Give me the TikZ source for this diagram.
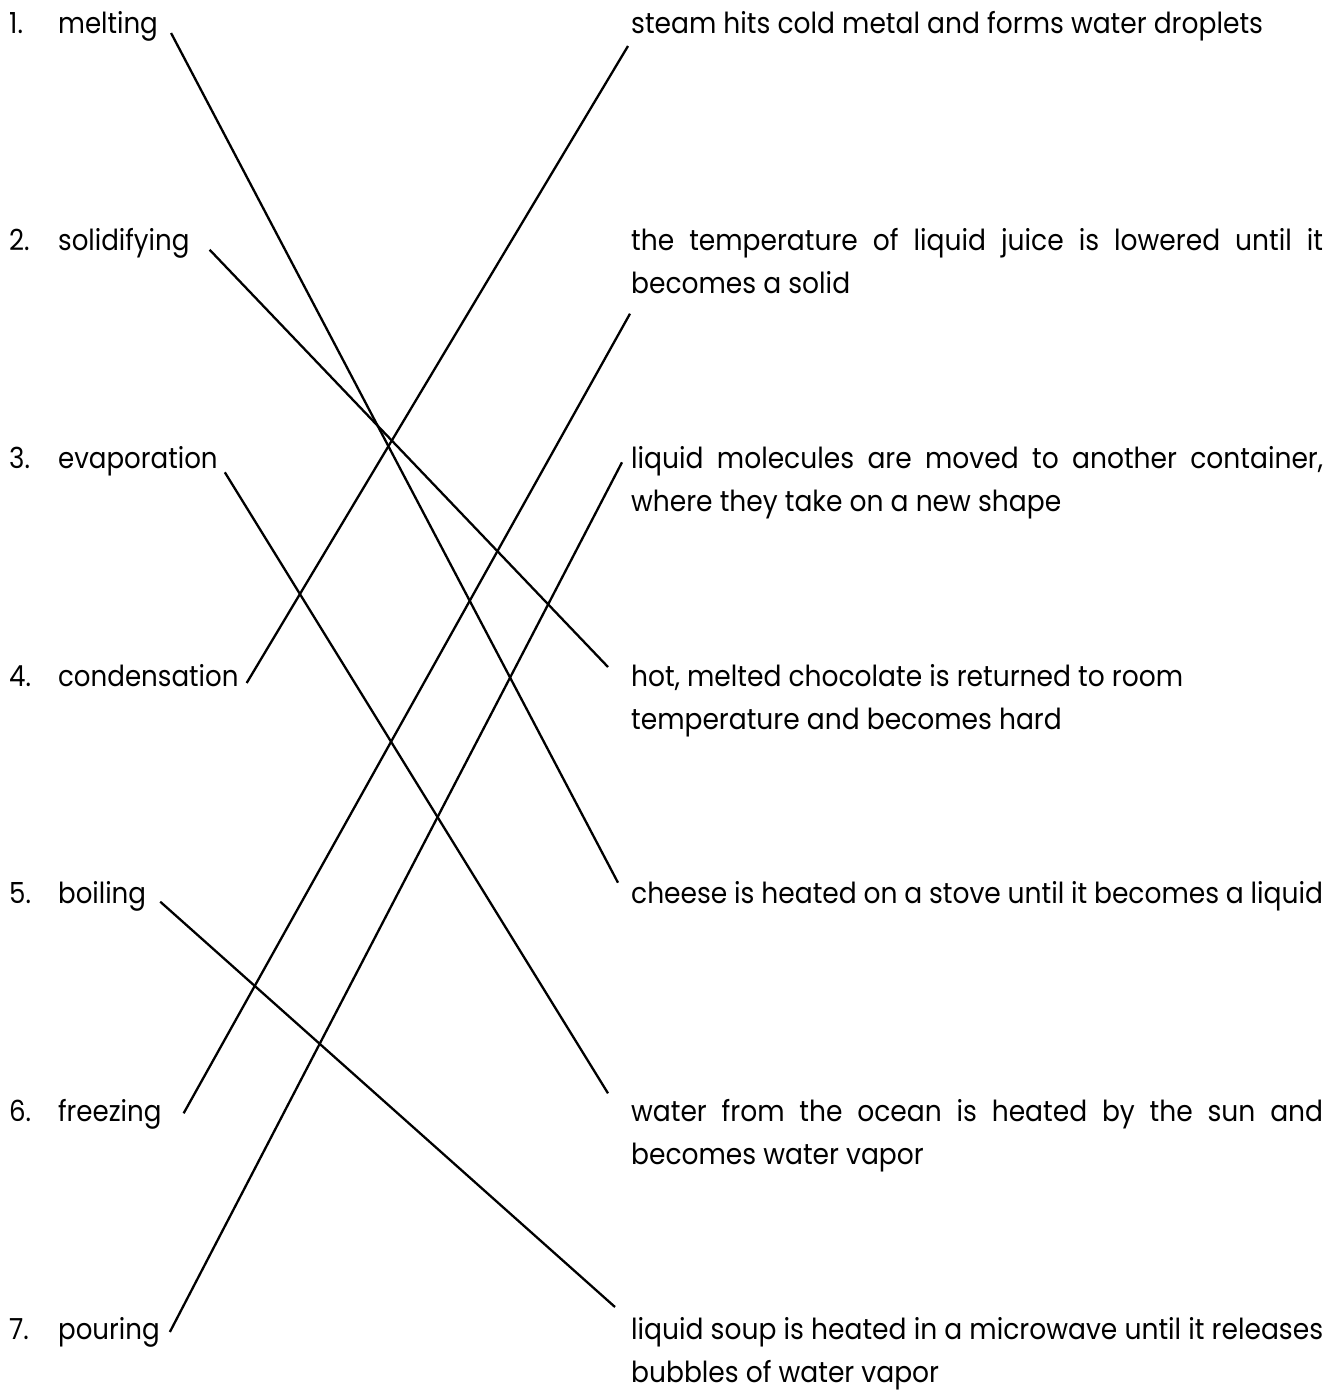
\documentclass[tikz,border=0pt]{standalone}
\usepackage{fontspec}
\setmainfont{Poppins}
\newfontfamily\termfont{Poppins}[FakeStretch=0.9]
\newfontfamily\descfont{Poppins}[FakeStretch=0.915]
\usetikzlibrary{positioning}

\begin{document}
\begin{tikzpicture}[x=1pt,y=-1pt,line width=2.3pt,
    term/.style={anchor=base west,inner sep=0pt,font=\termfont\fontsize{29}{43}\selectfont},
    desc/.style={anchor=base west,inner sep=0pt,text width=692pt,align=justify,
      font=\descfont\fontsize{29}{43}\selectfont}]
  \useasboundingbox (0,0) rectangle (1338,1393);
  \newcommand\num[1]{\makebox[49pt][l]{#1}}

  % left column
  \node[term] (melting)     at (8,33)     {\num{1.}melting};
  \node[term] (solidifying) at (8,250.7)  {\num{2.}solidifying};
  \node[term] (evaporation) at (8,468.3)  {\num{3.}evaporation};
  \node[term] (condensation) at (8,686)   {\num{4.}condensation};
  \node[term] (boiling)     at (8,903.7)  {\num{5.}boiling};
  \node[term] (freezing)    at (8,1121.3) {\num{6.}freezing};
  \node[term] (pouring)     at (8,1339)   {\num{7.}pouring};

  % right column
  \node[desc] (steam)     at (630,33)     {steam hits cold metal and forms water droplets};
  \node[desc] (juice)     at (630,250.7)  {the temperature of liquid juice is lowered until it\linebreak becomes a solid};
  \node[desc] (molecules) at (630,468.3)  {liquid molecules are moved to another container,\linebreak where they take on a new shape};
  \node[desc] (chocolate) at (630,686)    {hot, melted chocolate is returned to room\\ temperature and becomes hard};
  \node[desc] (cheese)    at (630,903.7)  {cheese is heated on a stove until it becomes a liquid};
  \node[desc] (ocean)     at (630,1121.3) {water from the ocean is heated by the sun and\linebreak becomes water vapor};
  \node[desc] (soup)      at (630,1339)   {liquid soup is heated in a microwave until it releases\linebreak bubbles of water vapor};

  % matching lines
  \draw ([shift={(12,0)}]melting.base east) -- ([shift={(-12,-21)}]cheese.base west);
  \draw ([shift={(19,-1)}]solidifying.base east) -- ([shift={(-22,-19)}]chocolate.base west);
  \draw ([shift={(6,4)}]evaporation.base east) -- ([shift={(-22,-28)}]ocean.base west);
  \draw ([shift={(7,-3)}]condensation.base east) -- ([shift={(-2,13)}]steam.base west);
  \draw ([shift={(13,-2)}]boiling.base east) -- ([shift={(-15,-32)}]soup.base west);
  \draw ([shift={(21,-8)}]freezing.base east) -- ([shift={(0,63)}]juice.base west);
  \draw ([shift={(9,-7)}]pouring.base east) -- ([shift={(-8,-6)}]molecules.base west);
\end{tikzpicture}
\end{document}
